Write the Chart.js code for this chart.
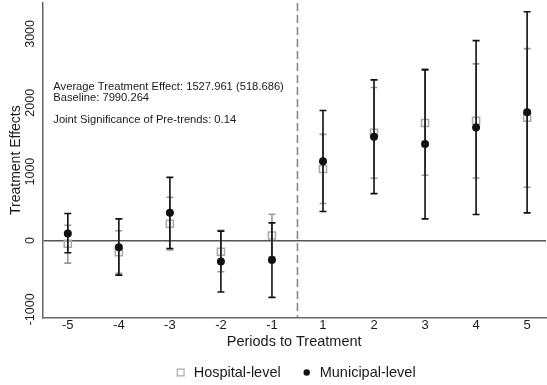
<!DOCTYPE html>
<html>
<head>
<meta charset="utf-8">
<script src="https://cdn.jsdelivr.net/npm/chart.js@4.4.1/dist/chart.umd.min.js"></script>
<style>
  html, body { margin: 0; padding: 0; background: #fff; }
  #wrap { width: 547px; height: 385px; }
</style>
</head>
<body>
<div id="wrap"><canvas id="es-chart"></canvas></div>
<script>
// event-study estimates with 95% CIs, periods relative to treatment
const periods = [-5, -4, -3, -2, -1, 1, 2, 3, 4, 5];
const hospEst = [-48, -169, 242, -165, 72, 1039, 1565, 1705, 1738, 1782];
const hospLow = [-329, -478, -139, -454, -237, 536, 903, 947, 908, 773];
const hospHigh = [222, 140, 628, 149, 381, 1541, 2222, 2493, 2565, 2787];
const muniEst = [101, -97, 401, -304, -285, 1151, 1507, 1400, 1639, 1863];
const muniLow = [-178, -503, -116, -749, -826, 420, 681, 314, 377, 401];
const muniHigh = [391, 314, 917, 135, 256, 1888, 2333, 2478, 2903, 3323];
const yTicks = [-1000, 0, 1000, 2000, 3000];
const notes = [
    'Average Treatment Effect: 1527.961 (518.686)',
    'Baseline: 7990.264',
    '',
    'Joint Significance of Pre-trends: 0.14'
];

const FONT = "'Liberation Sans', Arial, sans-serif";
const INK = '#1a1a1a';

// CI whiskers, drawn just before each dataset's markers
const errorBars = {
    id: 'errorBars',
    beforeDatasetDraw(chart, args) {
        const ds = chart.data.datasets[args.index];
        const xs = chart.scales.x, ys = chart.scales.y;
        const ctx = chart.ctx;
        const cap = 3.5;
        ctx.save();
        ctx.strokeStyle = ds.barColor;
        ctx.lineWidth = 1.6;
        ds.low.forEach((lo, i) => {
            const px = xs.getPixelForValue(i);
            const top = ys.getPixelForValue(ds.high[i]);
            const bot = ys.getPixelForValue(lo);
            ctx.beginPath();
            ctx.moveTo(px, top); ctx.lineTo(px, bot);
            ctx.moveTo(px - cap, top); ctx.lineTo(px + cap, top);
            ctx.moveTo(px - cap, bot); ctx.lineTo(px + cap, bot);
            ctx.stroke();
        });
        ctx.restore();
    }
};

// dashed treatment marker, rotated y tick labels, note block and legend row
const decorations = {
    id: 'decorations',
    beforeDatasetsDraw(chart) {
        const ctx = chart.ctx, area = chart.chartArea;
        const px = chart.scales.x.getPixelForValue(4.5);
        ctx.save();
        ctx.strokeStyle = '#8a8a8a';
        ctx.lineWidth = 1.6;
        ctx.setLineDash([8, 4]);
        ctx.beginPath();
        ctx.moveTo(px, area.top);
        ctx.lineTo(px, area.bottom);
        ctx.stroke();
        ctx.restore();
    },
    afterDraw(chart) {
        const ctx = chart.ctx, area = chart.chartArea, ys = chart.scales.y;
        ctx.save();
        ctx.fillStyle = INK;
        ctx.font = '12.5px ' + FONT;
        ctx.textAlign = 'center';
        ctx.textBaseline = 'middle';
        yTicks.forEach(v => {
            ctx.save();
            ctx.translate(area.left - 12, ys.getPixelForValue(v));
            ctx.rotate(-Math.PI / 2);
            ctx.fillText(String(v), 0, 0);
            ctx.restore();
        });

        ctx.font = '11.2px ' + FONT;
        ctx.textAlign = 'left';
        notes.forEach((t, i) => {
            if (t) ctx.fillText(t, area.left + 11, 87 + i * 11);
        });

        // legend: marker, 13px gap, label; items 26px apart; centred under the plot
        ctx.font = '14.5px ' + FONT;
        const sets = chart.data.datasets;
        const widths = sets.map(d => 13 + ctx.measureText(d.label).width);
        const total = widths.reduce((a, b) => a + b, 0) + 26 * (sets.length - 1);
        let x = (area.left + area.right) / 2 - total / 2 + 4;
        const ly = 372.5;
        sets.forEach((d, i) => {
            const hollow = d.pointStyle === 'rect';
            ctx.fillStyle = d.pointBackgroundColor;
            ctx.strokeStyle = d.pointBorderColor || d.pointBackgroundColor;
            ctx.lineWidth = 1.2;
            Chart.helpers.drawPoint(ctx, {
                pointStyle: d.pointStyle,
                radius: hollow ? 4.8 : 3.2,
                borderWidth: hollow ? 1.2 : 0
            }, x, ly);
            ctx.fillStyle = INK;
            ctx.fillText(d.label, x + 13, ly);
            x += widths[i] + 26;
        });
        ctx.restore();
    }
};

const ctx = document.getElementById('es-chart').getContext('2d');
const chart = new Chart(ctx, {
    type: 'scatter',
    data: {
        datasets: [{
            label: 'Hospital-level',
            data: hospEst.map((v, i) => ({ x: i, y: v })),
            low: hospLow,
            high: hospHigh,
            barColor: '#9a9a9a',
            pointStyle: 'rect',
            pointRadius: 5,
            pointBorderWidth: 1.5,
            pointBorderColor: '#a8a8a8',
            pointBackgroundColor: 'rgba(0,0,0,0)',
            order: 2
        }, {
            label: 'Municipal-level',
            data: muniEst.map((v, i) => ({ x: i, y: v })),
            low: muniLow,
            high: muniHigh,
            barColor: '#111',
            pointStyle: 'circle',
            pointRadius: 4,
            pointBorderWidth: 0,
            pointBackgroundColor: '#111',
            order: 1
        }]
    },
    options: {
        responsive: true,
        maintainAspectRatio: false,
        animation: false,
        layout: { autoPadding: false, padding: { top: 3, right: 1, left: 0, bottom: 33 } },
        scales: {
            x: {
                type: 'linear',
                min: -0.5,
                max: 9.37,
                afterBuildTicks: s => { s.ticks = periods.map((p, i) => ({ value: i })); },
                afterFit: s => { s.paddingLeft = 0; s.paddingRight = 0; },
                ticks: {
                    callback: v => periods[v],
                    font: { size: 13, family: FONT, lineHeight: 1.1 },
                    color: INK,
                    padding: 1,
                    maxRotation: 0
                },
                grid: { display: false, drawTicks: false },
                border: { color: '#666', width: 1.5 },
                title: {
                    display: true,
                    text: 'Periods to Treatment',
                    font: { size: 14.5, family: FONT },
                    color: INK,
                    padding: { top: 0, bottom: 1 }
                }
            },
            y: {
                min: -1116,
                max: 3449,
                afterBuildTicks: s => { s.ticks = yTicks.map(v => ({ value: v })); },
                ticks: { display: false },
                grid: {
                    drawTicks: false,
                    lineWidth: 1.5,
                    color: c => (c.tick && c.tick.value === 0) ? '#555' : 'rgba(0,0,0,0)'
                },
                border: { color: '#666', width: 1.5 },
                title: {
                    display: true,
                    text: 'Treatment Effects',
                    font: { size: 14, family: FONT },
                    color: INK,
                    padding: { top: 8, bottom: 17.5 }
                }
            }
        },
        plugins: {
            legend: { display: false },
            tooltip: { enabled: false }
        }
    },
    plugins: [errorBars, decorations]
});
</script>
</body>
</html>
